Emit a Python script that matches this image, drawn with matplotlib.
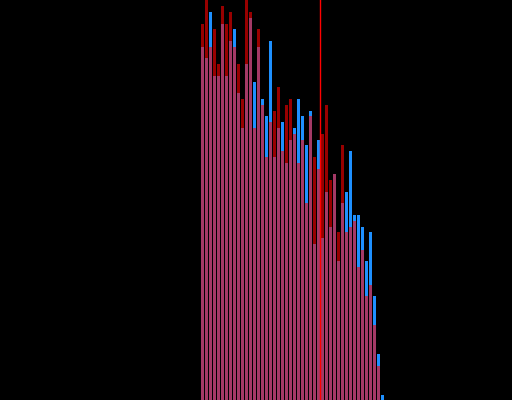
import numpy as np
import matplotlib
matplotlib.use("Agg")
import matplotlib.pyplot as plt

# bar heights (same bins for both series)
blue_vals = [353, 342, 388, 324, 324, 376, 324, 359, 371, 307, 272, 336,
             382, 318, 353, 301, 284, 359, 243, 272, 278, 237, 260, 272,
             301, 284, 255, 289, 156, 260, 162, 208, 173, 226, 139, 197,
             208, 249, 185, 185, 173, 139, 168, 104, 46, 5]
red_vals = [376, 405, 353, 371, 336, 394, 376, 388, 353, 336, 301, 405,
            388, 272, 371, 295, 243, 278, 289, 313, 249, 295, 301, 266,
            237, 260, 197, 284, 243, 231, 266, 295, 220, 226, 168, 255,
            168, 173, 179, 133, 150, 104, 115, 75, 34, 0]
marker_x = 29.83

bins = np.arange(len(blue_vals))

fig = plt.figure(figsize=(5.12, 4.0), dpi=100, facecolor='black')
ax = fig.add_axes([0, 0, 1, 1])
ax.set_facecolor('black')

ax.bar(bins, blue_vals, width=0.75, align='edge', color='#1e90ff',
       linewidth=0, antialiased=False)
ax.bar(bins, red_vals, width=0.75, align='edge', color='red', alpha=0.6,
       linewidth=0, antialiased=False)
ax.axvline(marker_x, color='red', linewidth=1.0)

ax.set_xlim(-50.25, 77.75)
ax.set_ylim(0, 400)
ax.axis('off')

fig.savefig('out.png', dpi=100, facecolor='black')
